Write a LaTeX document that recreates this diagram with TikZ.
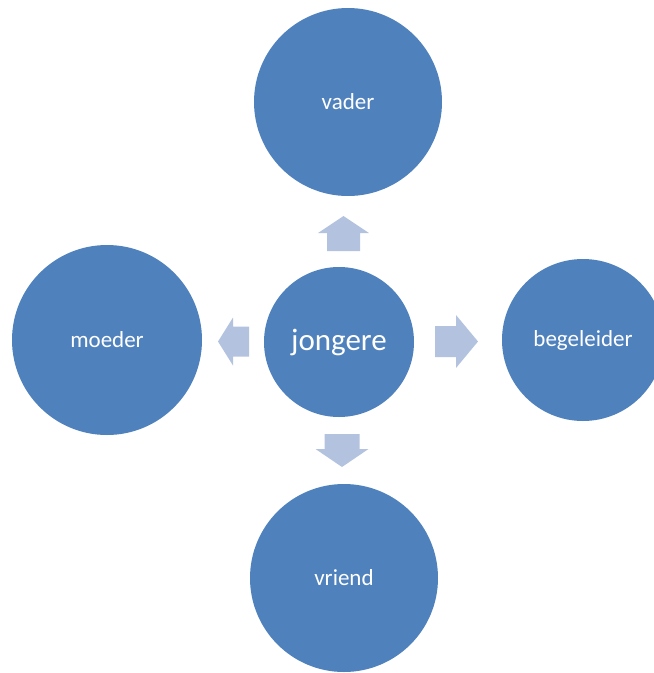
\documentclass[tikz,border=0pt]{standalone}
\usepackage{fontspec}
\setmainfont{Carlito}
\definecolor{circblue}{HTML}{4F81BD}
\definecolor{arrowblue}{HTML}{B3C3DF}
\tikzset{
  bubble/.style={circle, fill=circblue, text=white, inner sep=0pt, font=\fontsize{23}{27}\selectfont},
  blockarrow/.style={fill=arrowblue}
}
\begin{document}
\begin{tikzpicture}[x=1pt,y=-1pt]
  \useasboundingbox (0,0) rectangle (654,673);
  % circles
  \node[bubble, minimum size=150pt, font=\fontsize{31}{36}\selectfont] (jongere) at (339,342) {jongere};
  \node[bubble, minimum size=188pt] (vader) at (348,102) {vader};
  \node[bubble, minimum size=190pt] (moeder) at (107,340) {moeder};
  \node[bubble, minimum size=162pt] (begeleider) at (583,340) {begeleider};
  \node[bubble, minimum size=188pt] (vriend) at (344,578) {vriend};
  % block arrows: base x/y, rotation, shaft length, head length, shaft half, head half
  \foreach \bx/\by/\rot/\a/\b/\s/\h in {435/341.5/0/21/22/15.5/26.5,
                                       343.5/251/90/18/17/16.5/25.5,
                                       249/341.5/180/16/15/15/24,
                                       342/434/270/15/18/17.5/26.5} {
    \fill[blockarrow, shift={(\bx,\by)}, rotate=\rot]
      (0,-\s) -- (\a,-\s) -- (\a,-\h) -- (\a+\b,0) -- (\a,\h) -- (\a,\s) -- (0,\s) -- cycle;
  }
\end{tikzpicture}
\end{document}
